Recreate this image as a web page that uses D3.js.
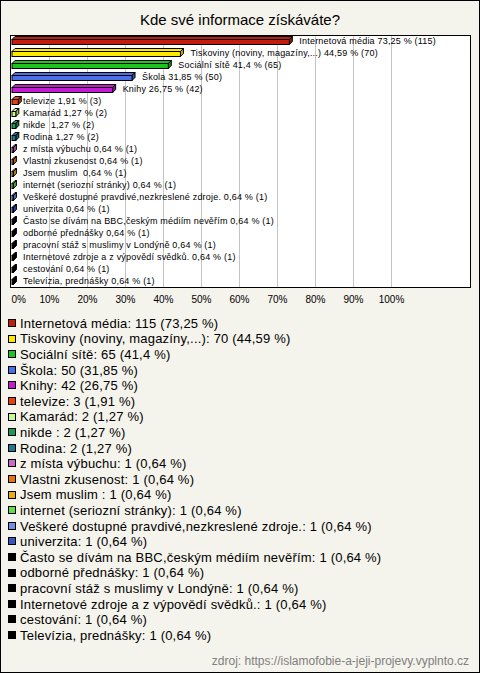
<!DOCTYPE html>
<html>
<head>
<meta charset="utf-8">
<script src="https://cdn.jsdelivr.net/npm/d3@7"></script>
<style>
  html, body { margin: 0; padding: 0; background: #f4f3ec; }
  svg { display: block; font-family: "Liberation Sans", Arial, sans-serif; }
  svg text { white-space: pre; }
</style>
</head>
<body>
<svg id="chart" width="480" height="673"></svg>
<script>
const title = "Kde své informace získáváte?";
const categories = [
  "Internetová média",
  "Tiskoviny (noviny, magazíny,...)",
  "Sociální sítě",
  "Škola",
  "Knihy",
  "televize",
  "Kamarád",
  "nikde ",
  "Rodina",
  "z místa výbuchu",
  "Vlastni zkusenost",
  "Jsem muslim ",
  "internet (seriozní stránky)",
  "Veškeré dostupné pravdivé,nezkreslené zdroje.",
  "univerzita",
  "Často se dívám na BBC,českým médiím nevěřím",
  "odborné přednášky",
  "pracovní stáž s muslimy v Londýně",
  "Internetové zdroje a z výpovědí svědků.",
  "cestování",
  "Televízia, prednášky"
];
const counts = [115, 70, 65, 50, 42, 3, 2, 2, 2, 1, 1, 1, 1, 1, 1, 1, 1, 1, 1, 1, 1];
const percents = [73.25, 44.59, 41.4, 31.85, 26.75, 1.91, 1.27, 1.27, 1.27, 0.64, 0.64, 0.64, 0.64, 0.64, 0.64, 0.64, 0.64, 0.64, 0.64, 0.64, 0.64];
const colors = [
  "#c41d0e", "#ffe800", "#1ec31e", "#4a6fe6", "#c41bd2", "#e6420f", "#c8f98c",
  "#19995a", "#1f7890", "#c86ac8", "#e6750f", "#e8b10a", "#5ce045", "#6d8fe6",
  "#3358c4", "#000000", "#000000", "#000000", "#000000", "#000000", "#000000"
];
const tickValues = [0, 10, 20, 30, 40, 50, 60, 70, 80, 90, 100];
const sourceText = "zdroj: https://islamofobie-a-jeji-projevy.vyplnto.cz";

const fmt = v => String(v).replace(".", ",");
const svg = d3.select("#chart");
const W = 480, H = 673;

svg.append("rect").attr("x", 0.5).attr("y", 0.5).attr("width", W - 1).attr("height", H - 1)
  .attr("fill", "#f4f3ec").attr("stroke", "#000");

svg.append("text").attr("x", 240).attr("y", 25).attr("text-anchor", "middle")
  .attr("font-size", 15).attr("fill", "#000").text(title);

const plot = { left: 10.5, top: 35.5, right: 470.5, bottom: 287.5 };
const x = d3.scaleLinear().domain([0, 100]).range([11, 391]);
const y = d3.scaleBand().domain(categories).range([35, 287]);

svg.append("rect").attr("x", plot.left).attr("y", plot.top)
  .attr("width", plot.right - plot.left).attr("height", plot.bottom - plot.top)
  .attr("fill", "#fff");

svg.append("g").selectAll("line").data(tickValues.filter(d => d > 0)).join("line")
  .attr("x1", d => Math.round(x(d)) + 0.5).attr("x2", d => Math.round(x(d)) + 0.5)
  .attr("y1", plot.top).attr("y2", plot.bottom)
  .attr("stroke", "#c4c4c4").attr("stroke-width", 1);

const depth = 3;
const bars = svg.append("g");
categories.forEach((c, i) => {
  const cy = y(c) + y.bandwidth() / 2;
  const x0 = x(0) + 1, x1 = Math.max(x(percents[i]), x0 + 1);
  const top = cy - 1.5, bot = cy + 3.5;
  const col = colors[i];
  const darker = d3.color(col).darker(0.8).formatHex();
  const g = bars.append("g").attr("stroke", "#000").attr("stroke-width", 1).attr("stroke-linejoin", "miter");
  g.append("path").attr("d", `M${x0},${top}L${x0 + depth},${top - depth}L${x1 + depth},${top - depth}L${x1},${top}Z`)
    .attr("fill", col);
  g.append("path").attr("d", `M${x1},${top}L${x1 + depth},${top - depth}L${x1 + depth},${bot - depth}L${x1},${bot}Z`)
    .attr("fill", darker);
  g.append("rect").attr("x", x0).attr("y", top).attr("width", x1 - x0).attr("height", bot - top)
    .attr("fill", col);
  const lx = percents[i] < 5 ? x(0) + 12 : x(percents[i]) + 10;
  bars.append("text").attr("x", lx).attr("y", cy + 3.2).attr("font-size", 9)
    .attr("letter-spacing", 0.2).attr("fill", "#000")
    .text(`${c} ${fmt(percents[i])} % (${counts[i]})`);
});

svg.append("rect").attr("x", plot.left).attr("y", plot.top)
  .attr("width", plot.right - plot.left).attr("height", plot.bottom - plot.top)
  .attr("fill", "none").attr("stroke", "#000");

const axis = d3.axisBottom(x).tickValues(tickValues).tickFormat(d => d + "%").tickSize(0).tickPadding(0);
const ag = svg.append("g").attr("transform", "translate(0,296)").call(axis);
ag.select(".domain").remove();
ag.selectAll("text").attr("font-size", 10).attr("fill", "#000")
  .attr("font-family", "Liberation Sans, Arial, sans-serif");
ag.selectAll(".tick").filter(d => d === 0).select("text").attr("text-anchor", "start");

const legend = svg.append("g");
categories.forEach((c, i) => {
  const cy = 323 + i * 15.6;
  legend.append("rect").attr("x", 8.5).attr("y", Math.round(cy - 4) + 0.5).attr("width", 7).attr("height", 7)
    .attr("fill", colors[i]).attr("stroke", "#000");
  legend.append("text").attr("x", 20).attr("y", cy + 4.8).attr("font-size", 13)
    .attr("letter-spacing", 0.2).attr("fill", "#000")
    .text(`${c}: ${counts[i]} (${fmt(percents[i])} %)`);
});

svg.append("text").attr("x", 469).attr("y", 665).attr("text-anchor", "end")
  .attr("font-size", 12).attr("fill", "#808080").text(sourceText);
</script>
</body>
</html>
